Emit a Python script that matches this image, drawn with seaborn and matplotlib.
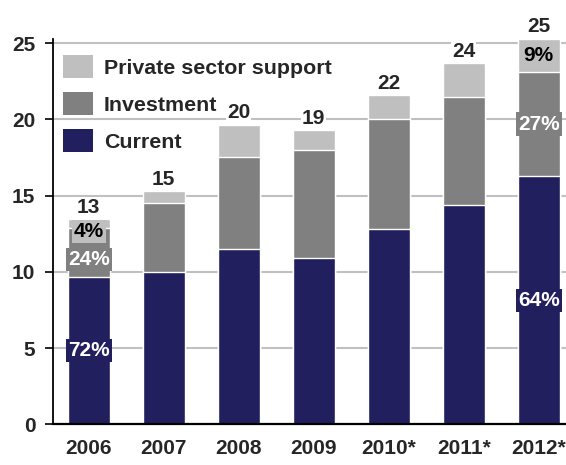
import matplotlib
matplotlib.use("Agg")
import matplotlib.pyplot as plt
import pandas as pd
import seaborn as sns
from matplotlib.patches import Patch

# Spending by type, per year (absolute values)
years = ["2006", "2007", "2008", "2009", "2010*", "2011*", "2012*"]
current = [9.65, 10.0, 11.5, 10.9, 12.8, 14.4, 16.3]
investment = [3.25, 4.5, 6.05, 7.1, 7.2, 7.1, 6.8]
private = [0.55, 0.8, 2.1, 1.3, 1.6, 2.2, 2.2]

series_names = ["Current", "Investment", "Private sector support"]
share_years = ["2006", "2012*"]
y_ticks = [0, 5, 10, 15, 20, 25]

colors = {
    "Current": "#211F5E",
    "Investment": "#808080",
    "Private sector support": "#BFBFBF",
}
text_colors = {
    "Current": "white",
    "Investment": "white",
    "Private sector support": "black",
}

sns.set_style("white")
plt.rcParams["font.family"] = ["Liberation Sans", "DejaVu Sans"]
plt.rcParams["font.weight"] = "bold"
FS = 15.0
FS_LEG = 15.4

df = pd.DataFrame({
    "year": years,
    "Current": current,
    "Investment": investment,
    "Private sector support": private,
})
df["cum_current"] = df["Current"]
df["cum_investment"] = df["cum_current"] + df["Investment"]
df["total"] = df["cum_investment"] + df["Private sector support"]

W, H = 566, 465
fig = plt.figure(figsize=(W / 100, H / 100), dpi=100)
y0_px, ytop_px, left_px = 424.3, 38.7, 52.7
ax = fig.add_axes([left_px / W, (H - y0_px) / H, (W - left_px) / W, (y0_px - ytop_px) / H])

# stacked bars drawn as overlapping cumulative bars, back to front
for col, name in [("total", "Private sector support"),
                  ("cum_investment", "Investment"),
                  ("cum_current", "Current")]:
    sns.barplot(data=df, x="year", y=col, color=colors[name], saturation=1,
                width=0.56, errorbar=None, ax=ax)

ax.set_xlim(-0.48, 6.364)
ax.set_ylim(0, 25.3)
ax.set_yticks(y_ticks)
ax.set_xlabel("")
ax.set_ylabel("")

ax.set_axisbelow(True)
ax.yaxis.grid(True, color="#C0C0C0", lw=1.5)
ax.xaxis.grid(False)

for side in ["top", "right"]:
    ax.spines[side].set_visible(False)
ax.spines["left"].set_color("black")
ax.spines["left"].set_linewidth(1.3)
ax.spines["bottom"].set_color("black")
ax.spines["bottom"].set_linewidth(1.6)

ax.tick_params(axis="y", length=5.5, width=1.2, pad=7.0, labelsize=FS, color="black", left=True)
ax.tick_params(axis="x", length=0, pad=10.5, labelsize=FS)
for lbl in ax.get_xticklabels() + ax.get_yticklabels():
    lbl.set_fontweight("bold")

# totals above each bar
for i, t in enumerate(df["total"]):
    ax.annotate(f"{t:.0f}", xy=(i, t), xytext=(0, 4.6), textcoords="offset points",
                ha="center", va="baseline", fontsize=FS, fontweight="bold",
                bbox=dict(boxstyle="square,pad=0.05", fc="white", ec="none"),
                zorder=5, annotation_clip=False)

# shares inside the first and last bars
label_nudge = {("2006", "Investment"): -0.45, ("2006", "Private sector support"): -0.5}
for i, row in df.iterrows():
    if row["year"] not in share_years:
        continue
    bottom = 0.0
    for name in series_names:
        h = row[name]
        pct = h / row["total"] * 100
        y = bottom + h / 2 + label_nudge.get((row["year"], name), 0.0)
        ax.text(i, y, f"{pct:.0f}%", ha="center", va="center", fontsize=FS,
                fontweight="bold", color=text_colors[name], zorder=6,
                bbox=dict(boxstyle="square,pad=0.1", fc=colors[name], ec="none"))
        bottom += h

handles = [Patch(facecolor=colors[n], edgecolor="none", label=n) for n in reversed(series_names)]
ax.legend(handles=handles, loc="upper left", bbox_to_anchor=(62.7 / W, 1 - 55 / H),
          bbox_transform=fig.transFigure, frameon=False, borderpad=0, borderaxespad=0,
          handlelength=1.40, handleheight=1.255, handletextpad=0.53, labelspacing=0.68,
          prop=dict(weight="bold", size=FS_LEG))

fig.savefig("out.png", dpi=100)
